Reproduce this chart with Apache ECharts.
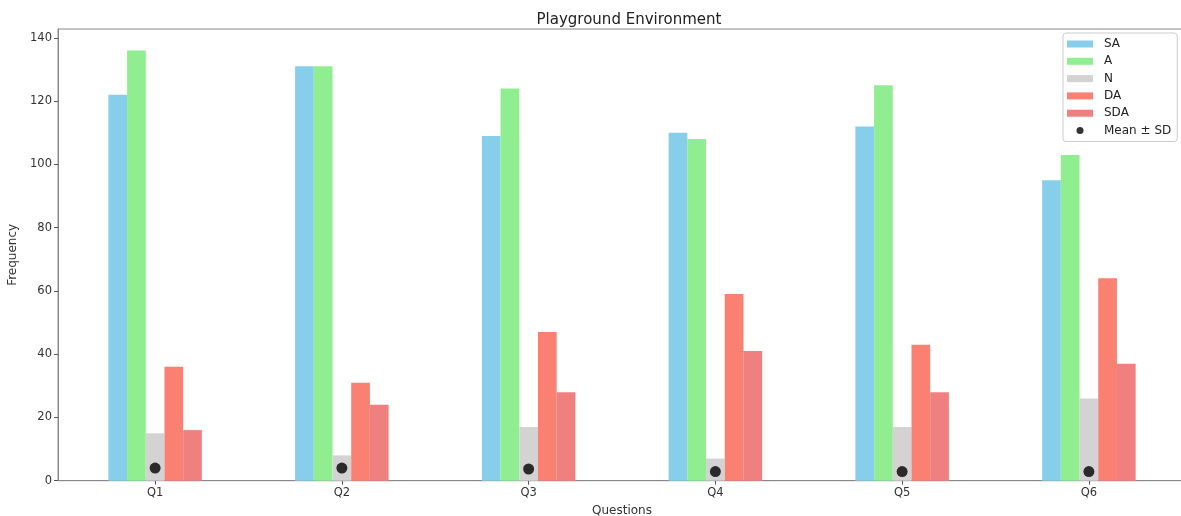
<!DOCTYPE html>
<html>
<head>
<meta charset="utf-8">
<script src="https://cdn.jsdelivr.net/npm/echarts@6/dist/echarts.min.js"></script>
<style>html,body{margin:0;padding:0;background:#fff}#c{width:1181px;height:516px}</style>
</head>
<body>
<div id="c"></div>
<script>
const questions = ['Q1','Q2','Q3','Q4','Q5','Q6'];
const SA  = [122, 131, 109, 110, 112, 95];
const A   = [136, 131, 124, 108, 125, 103];
const N   = [15, 8, 17, 7, 17, 26];
const DA  = [36, 31, 47, 59, 43, 64];
const SDA = [16, 24, 28, 41, 28, 37];
const MEAN = [4.0, 4.0, 3.7, 2.9, 2.9, 2.9];
const yTicks = [0, 20, 40, 60, 80, 100, 120, 140];

const chart = echarts.init(document.getElementById('c'));
const font = 'DejaVu Sans';
const toXY = arr => arr.map((v, i) => [i, v]);
const barSeries = (name, data, color) => ({
  name, type: 'bar', data: toXY(data), barWidth: 18.7, barGap: '0%',
  itemStyle: { color }, emphasis: { disabled: true }
});
chart.setOption({
  animation: false,
  textStyle: { fontFamily: font },
  title: {
    text: 'Playground Environment', left: 624, top: 8, textAlign: 'center',
    textStyle: { fontFamily: font, fontSize: 15, fontWeight: 'normal', color: '#222' }
  },
  grid: {
    left: 58, top: 29, width: 1128, height: 451.7,
    outerBoundsMode: 'none', containLabel: false,
    show: true, borderColor: '#888', borderWidth: 1
  },
  legend: {
    orient: 'vertical', left: 1063, top: 33, padding: [5, 6, 5, 4],
    borderColor: '#ccc', borderWidth: 1, borderRadius: 3,
    itemWidth: 26, itemHeight: 7, itemGap: 5.3,
    textStyle: { fontFamily: font, fontSize: 12, color: '#222', lineHeight: 12, padding: [0, 0, 0, 6] },
    data: [
      { name: 'SA', icon: 'rect' }, { name: 'A', icon: 'rect' }, { name: 'N', icon: 'rect' },
      { name: 'DA', icon: 'rect' }, { name: 'SDA', icon: 'rect' },
      { name: 'Mean ± SD', icon: 'circle', itemStyle: { color: '#000' } }
    ]
  },
  xAxis: {
    type: 'value', min: -0.52, max: 5.52,
    name: 'Questions', nameLocation: 'middle', nameGap: 24,
    nameTextStyle: { fontFamily: font, fontSize: 12, color: '#333' },
    splitLine: { show: false },
    axisLine: { show: true, onZero: false, lineStyle: { color: '#888' } },
    axisTick: { show: true, length: 4, lineStyle: { color: '#555' }, customValues: [0,1,2,3,4,5] },
    axisLabel: {
      customValues: [0,1,2,3,4,5], fontFamily: font, fontSize: 11.5, color: '#333', margin: 6,
      formatter: v => questions[Math.round(v)]
    }
  },
  yAxis: {
    type: 'value', min: 0, max: 142.8,
    name: 'Frequency', nameLocation: 'middle', nameGap: 37, nameRotate: 90,
    nameTextStyle: { fontFamily: font, fontSize: 12, color: '#333' },
    splitLine: { show: false },
    axisLine: { show: true, onZero: false, lineStyle: { color: '#888' } },
    axisTick: { show: true, length: 4, lineStyle: { color: '#555' }, customValues: yTicks },
    axisLabel: {
      fontFamily: font, fontSize: 11.5, color: '#333', margin: 6,
      customValues: yTicks
    }
  },
  series: [
    barSeries('SA', SA, '#87CEEB'),
    barSeries('A', A, '#90EE90'),
    barSeries('N', N, '#D3D3D3'),
    barSeries('DA', DA, '#FA8072'),
    barSeries('SDA', SDA, '#F08080'),
    {
      name: 'Mean ± SD', type: 'scatter', data: toXY(MEAN), symbol: 'circle', symbolSize: 11,
      itemStyle: { color: '#000' }, z: 5, emphasis: { disabled: true }
    }
  ]
});
</script>
</body>
</html>
